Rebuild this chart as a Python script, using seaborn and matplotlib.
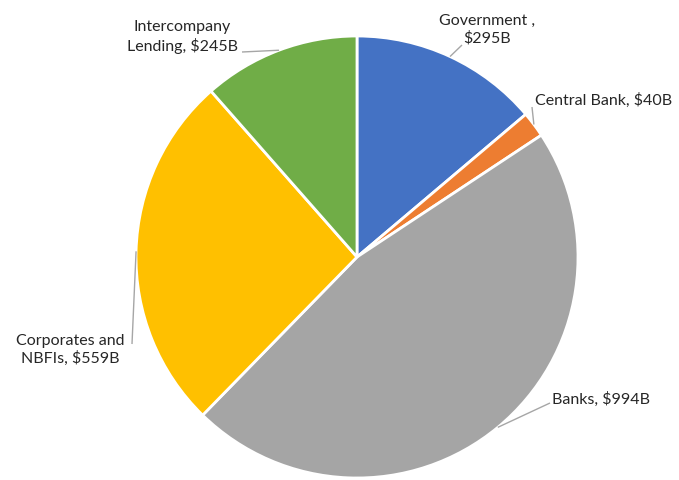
import numpy as np
import matplotlib
matplotlib.use("Agg")
import matplotlib.pyplot as plt
import seaborn as sns

# Holders of the debt, listed clockwise from 12 o'clock
categories = ["Government", "Central Bank", "Banks", "Corporates and NBFIs", "Intercompany Lending"]
values = [295, 40, 994, 559, 245]
labels = ["Government ,\n$295B", "Central Bank, $40B", "Banks, $994B",
          "Corporates and\nNBFIs, $559B", "Intercompany\nLending, $245B"]
colors = ["#4472C4", "#ED7D31", "#A5A5A5", "#FFC000", "#70AD47"]

sns.set_theme(style="white")
plt.rcParams["font.family"] = ["Lato", "DejaVu Sans"]

W, H = 679, 481
fig = plt.figure(figsize=(W / 100, H / 100), dpi=100)
ax = fig.add_axes([0, 0, 1, 1])


def px(x, y):
    """Convert top-left pixel coordinates to axes data coordinates."""
    return x, H - y


cx, cy = px(357, 258)
radius = 221
wedges, _ = ax.pie(values, colors=colors, startangle=90, counterclock=False,
                   center=(cx, cy), radius=radius, frame=True,
                   wedgeprops=dict(edgecolor="white", linewidth=2))
ax.set_xlim(0, W)
ax.set_ylim(0, H)
ax.set_aspect("equal")
ax.axis("off")

# Label layout: text anchor, alignment, and the elbow where the leader line meets the text
layout = [
    dict(xy=(487, 30), ha="center", elbow=(462, 46)),
    dict(xy=(535, 100), ha="left", elbow=(532, 108)),
    dict(xy=(552, 399), ha="left", elbow=(550, 404)),
    dict(xy=(70, 350), ha="center", elbow=(132, 345)),
    dict(xy=(182, 37), ha="center", elbow=(242, 53)),
]

text_color = "#262626"
for wedge, lab, lay in zip(wedges, labels, layout):
    mid = np.deg2rad((wedge.theta1 + wedge.theta2) / 2)
    ex, ey = cx + radius * np.cos(mid), cy + radius * np.sin(mid)
    bx, by = px(*lay["elbow"])
    ax.plot([ex, bx], [ey, by], color="#A6A6A6", linewidth=1, solid_capstyle="butt")
    tx, ty = px(*lay["xy"])
    ax.text(tx, ty, lab, ha=lay["ha"], va="center", fontsize=11.5,
            color=text_color, linespacing=1.25)

fig.savefig("out.png", dpi=100)
